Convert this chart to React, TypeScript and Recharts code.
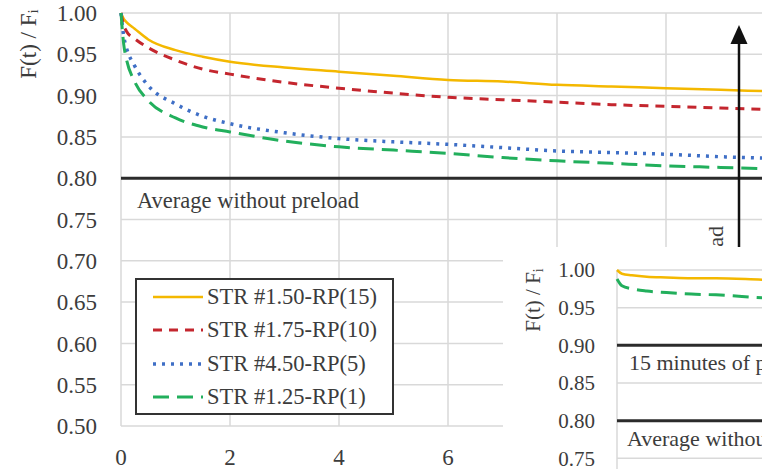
import React from "react";
import {
  LineChart,
  Line,
  XAxis,
  YAxis,
  CartesianGrid,
  ReferenceLine,
  Legend,
} from "recharts";

// main chart: time (min) vs F(t)/Fi
const timeMain = [0, 0.05, 0.1, 0.25, 0.5, 1, 1.5, 2, 3, 4, 5, 6, 7, 8, 9, 10, 11, 12];
const str150 = [1.0, 0.993, 0.989, 0.981, 0.968, 0.955, 0.947, 0.941, 0.934, 0.929, 0.924, 0.919, 0.917, 0.913, 0.911, 0.909, 0.907, 0.905];
const str175 = [1.0, 0.985, 0.978, 0.969, 0.958, 0.943, 0.932, 0.926, 0.916, 0.909, 0.903, 0.898, 0.895, 0.892, 0.889, 0.887, 0.885, 0.883];
const str450 = [1.0, 0.972, 0.958, 0.936, 0.912, 0.89, 0.875, 0.866, 0.855, 0.848, 0.844, 0.841, 0.837, 0.833, 0.831, 0.829, 0.826, 0.824];
const str125 = [1.0, 0.962, 0.944, 0.917, 0.894, 0.873, 0.862, 0.856, 0.845, 0.838, 0.834, 0.83, 0.825, 0.821, 0.818, 0.815, 0.813, 0.811];

const xTicks = [0, 2, 4, 6, 8, 10, 12, 14];
const yTicks = [0.5, 0.55, 0.6, 0.65, 0.7, 0.75, 0.8, 0.85, 0.9, 0.95, 1.0];

// inset chart
const timeInset = [0, 0.1, 0.3, 0.6, 1, 1.5, 2, 3, 4];
const insetStr150 = [1.0, 0.995, 0.993, 0.991, 0.99, 0.989, 0.989, 0.987, 0.986];
const insetStr125 = [0.988, 0.979, 0.975, 0.972, 0.97, 0.968, 0.967, 0.963, 0.961];
const insetXTicks = [0, 2, 4, 6, 8];
const insetYTicks = [0.7, 0.75, 0.8, 0.85, 0.9, 0.95, 1.0];

const mainData = timeMain.map((t, i) => ({
  t,
  s150: str150[i],
  s175: str175[i],
  s450: str450[i],
  s125: str125[i],
}));

const insetData = timeInset.map((t, i) => ({
  t,
  s150: insetStr150[i],
  s125: insetStr125[i],
}));

const series = [
  { key: "s150", name: "STR #1.50-RP(15)", color: "#F4B800", dash: undefined, w: 2.5 },
  { key: "s175", name: "STR #1.75-RP(10)", color: "#C4262E", dash: "9 7", w: 3 },
  { key: "s450", name: "STR #4.50-RP(5)", color: "#3F6FC6", dash: "3 6", w: 3.5 },
  { key: "s125", name: "STR #1.25-RP(1)", color: "#22AF5C", dash: "16 8", w: 3 },
];

const font = "'Liberation Serif', 'Times New Roman', serif";
const textColor = "#3c3c3c";
const fmt = (v: number) => v.toFixed(2);
// labels right of 6 sit under the inset, so they are left blank
const fmtX = (v: number) => (v <= 6 ? String(v) : "");

const refLabel = (text: string, dx: number, dy: number, size: number) => (props: any) => {
  const vb = props.viewBox;
  return (
    <text
      x={vb.x + dx}
      y={vb.y + dy}
      fontFamily={font}
      fontSize={size}
      fill={textColor}
      dominantBaseline="central"
    >
      {text}
    </text>
  );
};

const renderLegend = () => (
  <div
    style={{
      boxSizing: "border-box",
      width: 259,
      height: 137,
      border: "2px solid #333",
      background: "#fff",
      paddingTop: 0,
    }}
  >
    {series.map((s) => (
      <div
        key={s.key}
        style={{ display: "flex", alignItems: "center", height: 33.5, paddingLeft: 16 }}
      >
        <svg width={50} height={10} style={{ marginRight: 4 }}>
          <line
            x1={0}
            y1={5}
            x2={50}
            y2={5}
            stroke={s.color}
            strokeWidth={s.w}
            strokeDasharray={s.dash}
          />
        </svg>
        <span style={{ fontFamily: font, fontSize: 22.5, color: textColor }}>{s.name}</span>
      </div>
    ))}
  </div>
);

export default function App() {
  return (
    <div
      style={{
        position: "fixed",
        left: 0,
        top: 0,
        width: 762,
        height: 469,
        overflow: "hidden",
        background: "#fff",
      }}
    >
      <LineChart
        width={884}
        height={469}
        data={mainData}
        margin={{ top: 13, right: 0, bottom: 0, left: 0 }}
      >
        <CartesianGrid stroke="#d9d9d9" strokeWidth={1.5} />
        <XAxis
          dataKey="t"
          type="number"
          domain={[0, 14]}
          ticks={xTicks}
          tickFormatter={fmtX}
          axisLine={false}
          tickLine={false}
          height={43}
          tickMargin={17}
          tick={{ fontSize: 23, fill: textColor, fontFamily: font }}
        />
        <YAxis
          type="number"
          domain={[0.5, 1.0]}
          ticks={yTicks}
          tickFormatter={fmt}
          axisLine={false}
          tickLine={false}
          width={121}
          tickMargin={18}
          tick={{ fontSize: 23, fill: textColor, fontFamily: font }}
        />
        <ReferenceLine
          y={0.8}
          stroke="#2b2b2b"
          strokeWidth={3}
          label={refLabel("Average without preload", 16, 22, 22.5)}
        />
        <Legend
          layout="vertical"
          align="center"
          verticalAlign="middle"
          wrapperStyle={{ left: 135, top: 278, width: 259, height: 137 }}
          content={renderLegend}
        />
        {series.map((s) => (
          <Line
            key={s.key}
            dataKey={s.key}
            name={s.name}
            type="monotone"
            stroke={s.color}
            strokeWidth={s.w}
            strokeDasharray={s.dash}
            dot={false}
            isAnimationActive={false}
          />
        ))}
      </LineChart>

      <svg
        width={762}
        height={469}
        style={{ position: "absolute", left: 0, top: 0, pointerEvents: "none" }}
      >
        <text
          transform="rotate(-90, 28, 44)"
          x={28}
          y={44}
          textAnchor="middle"
          dominantBaseline="central"
          fontFamily={font}
          fontSize={23}
          fill={textColor}
        >
          F(t) / F
          <tspan fontSize={15} dy={5}>i</tspan>
        </text>
        <line x1={739} y1={40} x2={739} y2={270} stroke="#111" strokeWidth={2.5} />
        <polygon points="730.5,44 747.5,44 739,25" fill="#111" />
        <text
          transform="rotate(-90, 715, 226)"
          x={715}
          y={226}
          textAnchor="end"
          dominantBaseline="central"
          fontFamily={font}
          fontSize={22}
          fill={textColor}
        >
          15 minutes of preload
        </text>
      </svg>

      <div
        style={{
          position: "absolute",
          left: 503,
          top: 247,
          width: 520,
          height: 300,
          background: "#fff",
        }}
      >
        <LineChart
          width={510}
          height={289}
          data={insetData}
          margin={{ top: 23, right: 0, bottom: 0, left: 0 }}
        >
          <CartesianGrid stroke="#d9d9d9" strokeWidth={1.5} />
          <XAxis
            dataKey="t"
            type="number"
            domain={[0, 8]}
            ticks={insetXTicks}
            axisLine={false}
            tickLine={false}
            tick={false}
            height={40}
          />
          <YAxis
            type="number"
            domain={[0.7, 1.0]}
            ticks={insetYTicks}
            tickFormatter={fmt}
            axisLine={false}
            tickLine={false}
            width={114}
            tickMargin={16}
            tick={{ fontSize: 21, fill: textColor, fontFamily: font }}
          />
          <ReferenceLine
            y={0.9}
            stroke="#2b2b2b"
            strokeWidth={3}
            label={refLabel("15 minutes of preload", 12, 17, 22)}
          />
          <ReferenceLine
            y={0.8}
            stroke="#2b2b2b"
            strokeWidth={3}
            label={refLabel("Average without preload", 10, 18, 22)}
          />
          <Line
            dataKey="s150"
            type="monotone"
            stroke={series[0].color}
            strokeWidth={2.5}
            dot={false}
            isAnimationActive={false}
          />
          <Line
            dataKey="s125"
            type="monotone"
            stroke={series[3].color}
            strokeWidth={3}
            strokeDasharray="16 8"
            dot={false}
            isAnimationActive={false}
          />
        </LineChart>
        <svg
          width={120}
          height={120}
          style={{ position: "absolute", left: 0, top: 0, pointerEvents: "none" }}
        >
          <text
            transform="rotate(-90, 30, 53)"
            x={30}
            y={53}
            textAnchor="middle"
            dominantBaseline="central"
            fontFamily={font}
            fontSize={21}
            fill={textColor}
          >
            F(t) / F
            <tspan fontSize={14} dy={5}>i</tspan>
          </text>
        </svg>
      </div>
    </div>
  );
}
